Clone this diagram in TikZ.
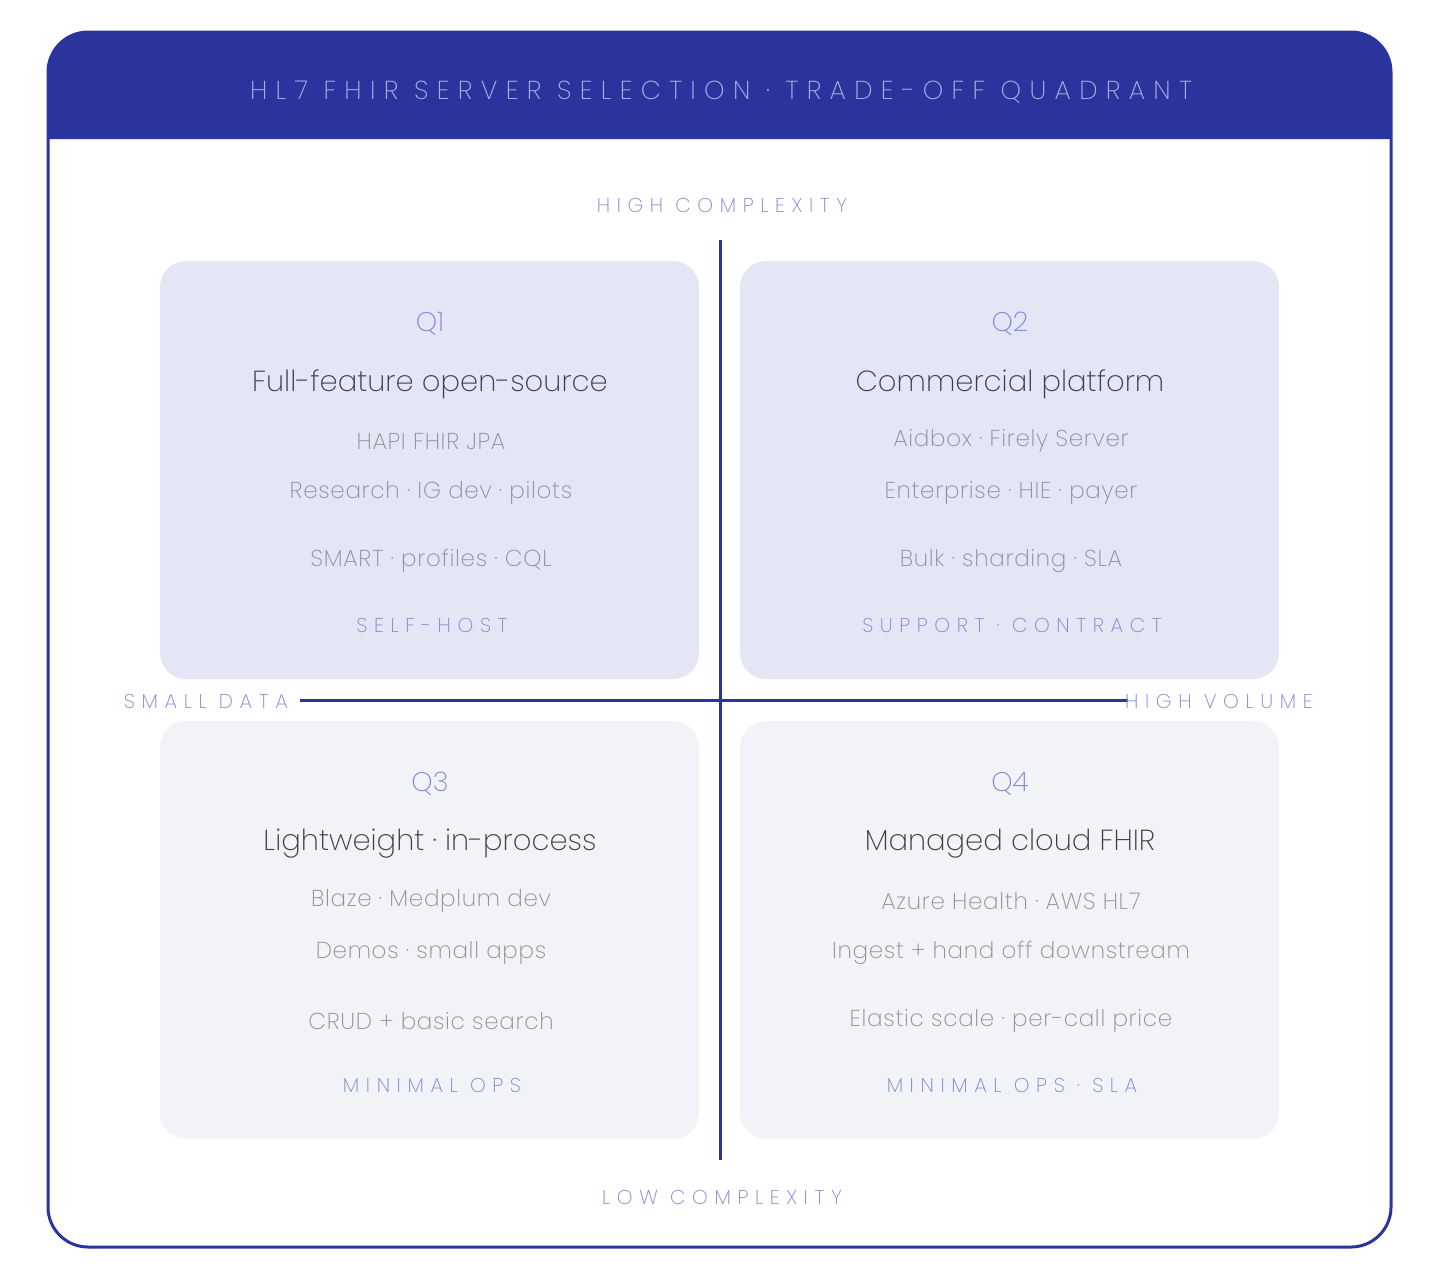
\documentclass[tikz,border=0pt]{standalone}
\usepackage{fontspec}
\setmainfont{Poppins ExtraLight}
\newfontfamily\spacedfont{Poppins ExtraLight}[LetterSpace=33]
\newfontfamily\widefont{Poppins ExtraLight}[LetterSpace=32]
\newfontfamily\itemfont{Poppins ExtraLight}[LetterSpace=3]
\definecolor{navy}{HTML}{2B349C}
\definecolor{titletxt}{HTML}{A9AEE6}
\definecolor{axislbl}{HTML}{7F85D0}
\definecolor{qlbl}{HTML}{8088D4}
\definecolor{qtitle}{HTML}{3E3E4A}
\definecolor{qline}{HTML}{8E8E98}
\definecolor{qtop}{HTML}{E4E6F6}
\definecolor{qbot}{HTML}{F2F3F6}
\tikzset{
  quadbox/.style={rounded corners=26pt},
  axis/.style={draw=navy, line width=3pt},
  axlabel/.style={text=axislbl, font=\fontsize{20}{24}\spacedfont, inner sep=0pt},
  qid/.style={text=qlbl, font=\fontsize{27}{31}\selectfont, inner sep=0pt},
  qhead/.style={text=qtitle, font=\fontsize{29}{34}\selectfont, inner sep=0pt},
  qitem/.style={text=qline, font=\fontsize{23}{27}\itemfont, inner sep=0pt},
  qtag/.style={text=axislbl, font=\fontsize{20}{24}\spacedfont, inner sep=0pt},
}
\begin{document}
\begin{tikzpicture}[x=1pt,y=-1pt]
\useasboundingbox (0,0) rectangle (1440,1280);
% header band
\fill[navy] (48,139) [rounded corners=40pt] -- (48,32) -- (1391,32) [sharp corners] -- (1391,139) -- cycle;
\node[text=titletxt, font=\fontsize{26}{30}\widefont, inner sep=0pt] (title) at (721,92) {HL7 FHIR SERVER SELECTION · TRADE-OFF QUADRANT};
% frame
\draw[navy, line width=3pt, rounded corners=40pt] (48,32) rectangle (1391,1247);
% quadrant boxes
\fill[qtop, quadbox] (160,261) rectangle (699,679);
\fill[qtop, quadbox] (740,261) rectangle (1279,679);
\fill[qbot, quadbox] (160,721) rectangle (699,1139);
\fill[qbot, quadbox] (740,721) rectangle (1279,1139);
% axes
\coordinate (vtop) at (720,240);
\coordinate (vbot) at (720,1160);
\coordinate (hleft) at (300,700);
\coordinate (hright) at (1128,700);
\draw[axis] (vtop) -- (vbot);
\draw[axis] (hleft) -- (hright);
\node[axlabel] (hc) at (722,205) {HIGH COMPLEXITY};
\node[axlabel] (lc) at (722,1197) {LOW COMPLEXITY};
\node[axlabel, anchor=east] (sd) at (288,701) {SMALL DATA};
\node[axlabel, anchor=west] (hv) at (1125,701) {HIGH VOLUME};
% Q1
\node[qid] (q1) at (430,324) {Q1};
\node[qhead] (q1t) at (430,384) {Full-feature open-source};
\node[qitem] (q1a) at (431,441) {HAPI FHIR JPA};
\node[qitem] (q1b) at (431,493) {Research · IG dev · pilots};
\node[qitem] (q1c) at (431,561) {SMART · profiles · CQL};
\node[qtag] (q1d) at (432,625) {SELF-HOST};
% Q2
\node[qid] (q2) at (1010,324) {Q2};
\node[qhead] (q2t) at (1010,384) {Commercial platform};
\node[qitem] (q2a) at (1011,441) {Aidbox · Firely Server};
\node[qitem] (q2b) at (1011,493) {Enterprise · HIE · payer};
\node[qitem] (q2c) at (1011,561) {Bulk · sharding · SLA};
\node[qtag] (q2d) at (1012,625) {SUPPORT · CONTRACT};
% Q3
\node[qid] (q3) at (430,784) {Q3};
\node[qhead] (q3t) at (430,844) {Lightweight · in-process};
\node[qitem] (q3a) at (431,901) {Blaze · Medplum dev};
\node[qitem] (q3b) at (431,953) {Demos · small apps};
\node[qitem] (q3c) at (431,1021) {CRUD + basic search};
\node[qtag] (q3d) at (432,1085) {MINIMAL OPS};
% Q4
\node[qid] (q4) at (1010,784) {Q4};
\node[qhead] (q4t) at (1010,844) {Managed cloud FHIR};
\node[qitem] (q4a) at (1011,901) {Azure Health · AWS HL7};
\node[qitem] (q4b) at (1011,953) {Ingest + hand off downstream};
\node[qitem] (q4c) at (1011,1021) {Elastic scale · per-call price};
\node[qtag] (q4d) at (1012,1085) {MINIMAL OPS · SLA};
\end{tikzpicture}
\end{document}
